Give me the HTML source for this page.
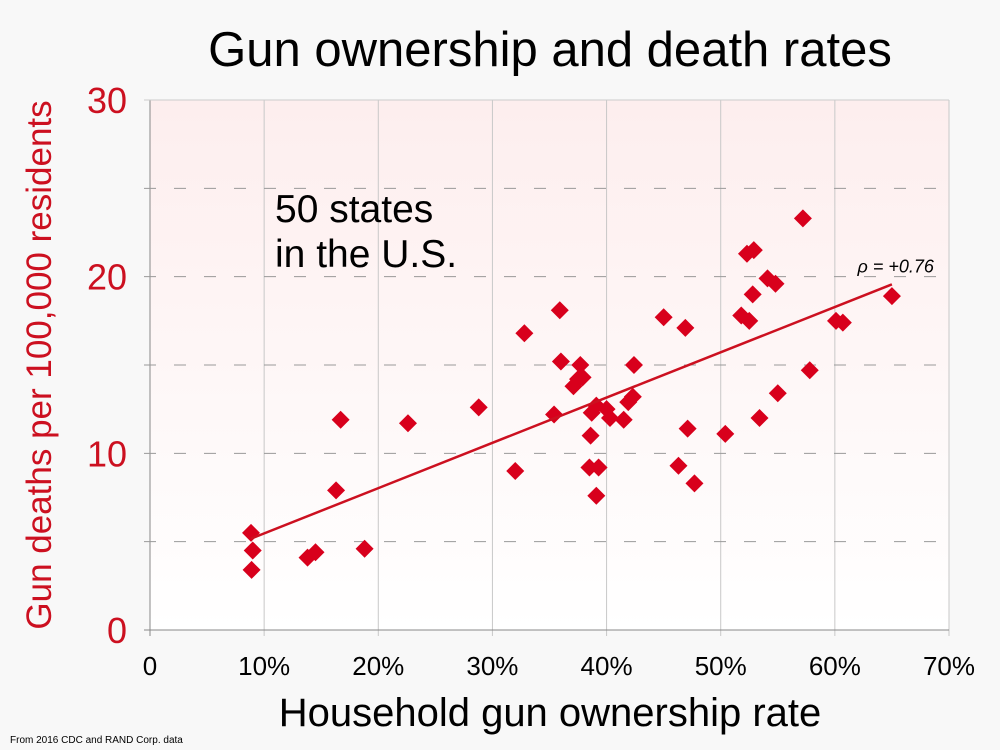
<!DOCTYPE html>
<html><head><meta charset="utf-8"><style>
html,body{margin:0;padding:0;background:#f8f8f8;}
svg{display:block;font-family:"Liberation Sans",sans-serif;}
</style></head><body>
<svg id="chart" width="1000" height="750">
<defs><linearGradient id="bg" x1="0" y1="0" x2="0" y2="1"><stop offset="0" stop-color="#fdeeee"/><stop offset="1" stop-color="#ffffff"/></linearGradient></defs>
<rect x="0" y="0" width="1000" height="750" fill="#f8f8f8"/>
<rect x="150" y="100" width="799" height="530" fill="url(#bg)"/>
<g id="grid"></g>
<g id="marks"></g>
<text x="550" y="66" text-anchor="middle" font-size="49" fill="#000">Gun ownership and death rates</text>
<text x="275" y="222" font-size="39" fill="#000">50 states</text>
<text x="275" y="267" font-size="39" fill="#000">in the U.S.</text>
<text x="550" y="726" text-anchor="middle" font-size="40" fill="#000">Household gun ownership rate</text>
<text transform="translate(51,365) rotate(-90)" text-anchor="middle" font-size="35" fill="#cc1020">Gun deaths per 100,000 residents</text>
<text x="10" y="743" font-size="10" fill="#000">From 2016 CDC and RAND Corp. data</text>
</svg>
<script>
const xTicks=[0,10,20,30,40,50,60,70];
const yTicks=[0,10,20,30];
const yMinor=[5,15,25];
const ownership=[8.85,9.0,8.9,13.8,14.5,18.8,16.3,16.7,22.6,28.8,32.0,32.8,35.4,35.9,36.0,37.7,37.9,37.1,37.5,38.7,39.1,38.6,38.5,39.3,39.1,40.0,40.3,41.5,41.9,42.3,42.4,45.0,46.9,46.3,47.1,47.7,50.4,51.8,52.5,52.3,52.9,52.8,53.4,54.1,54.8,55.0,57.2,57.8,60.1,60.7,65.0];
const deaths=[5.5,4.5,3.4,4.1,4.4,4.6,7.9,11.9,11.7,12.6,9.0,16.8,12.2,18.1,15.2,15.0,14.3,13.8,14.2,12.3,12.7,11.0,9.2,9.2,7.6,12.5,12.0,11.9,12.9,13.2,15.0,17.7,17.1,9.3,11.4,8.3,11.1,17.8,17.5,21.3,21.5,19.0,12.0,19.9,19.6,13.4,23.3,14.7,17.5,17.4,18.9];
const rhoLabel="ρ = +0.76";
const X=v=>150+v*(799/70), Y=v=>630-v*(530/30);
const NS="http://www.w3.org/2000/svg";
function mk(t,a,p){const e=document.createElementNS(NS,t);for(const k in a)e.setAttribute(k,a[k]);p.appendChild(e);return e;}
const g=document.getElementById('grid'), m=document.getElementById('marks');
xTicks.forEach(t=>{
 const l=mk('line',{x1:X(t),x2:X(t),y1:100,y2:636,stroke:t==0?'#888':'#c8c8c8','stroke-width':1},g);
 
 
 const s=mk('text',{x:X(t),y:675,'text-anchor':'middle','font-size':26,fill:'#000'},g);
 s.textContent=t+(t?'%':'');
 
 
});
yTicks.forEach(t=>{
 const l=mk('line',{x1:144,x2:949,y1:Y(t),y2:Y(t),stroke:t==0?'#888':'#999','stroke-width':1,'stroke-dasharray':t==0||t==30?'none':'12,18'},g);
 if(t==30)l.setAttribute('stroke','#ccc');
 
 
 const s=mk('text',{x:127,y:Y(t)+13,'text-anchor':'end','font-size':36,fill:'#cc1020'},g);
 s.textContent=t;
 
 
});
yMinor.forEach(t=>{
 const l=mk('line',{x1:144,x2:949,y1:Y(t),y2:Y(t),stroke:'#999','stroke-width':1,'stroke-dasharray':'12,18'},g);
 
 
});
ownership.forEach((x,i)=>{
 const cx=X(x),cy=Y(deaths[i]),r=9;
 const p=mk('polygon',{points:`${cx},${cy-r} ${cx+r},${cy} ${cx},${cy+r} ${cx-r},${cy}`,fill:'#d8001c'},m);
 
 
});
const n=ownership.length,mx=ownership.reduce((a,b)=>a+b)/n,my=deaths.reduce((a,b)=>a+b)/n;
let sxy=0,sxx=0;ownership.forEach((x,i)=>{sxy+=(x-mx)*(deaths[i]-my);sxx+=(x-mx)**2;});
const b=sxy/sxx,a=my-b*mx,x0=Math.min(...ownership),x1=Math.max(...ownership);
const tl=mk('line',{x1:X(x0),y1:Y(a+b*x0),x2:X(x1),y2:Y(a+b*x1),stroke:'#cc1020','stroke-width':2.5},m);


const rl=mk('text',{x:X(x1)+42,y:Y(a+b*x1)-12,'text-anchor':'end','font-size':18,'font-style':'italic',fill:'#000'},m);
rl.textContent=rhoLabel;


</script>
</body></html>
